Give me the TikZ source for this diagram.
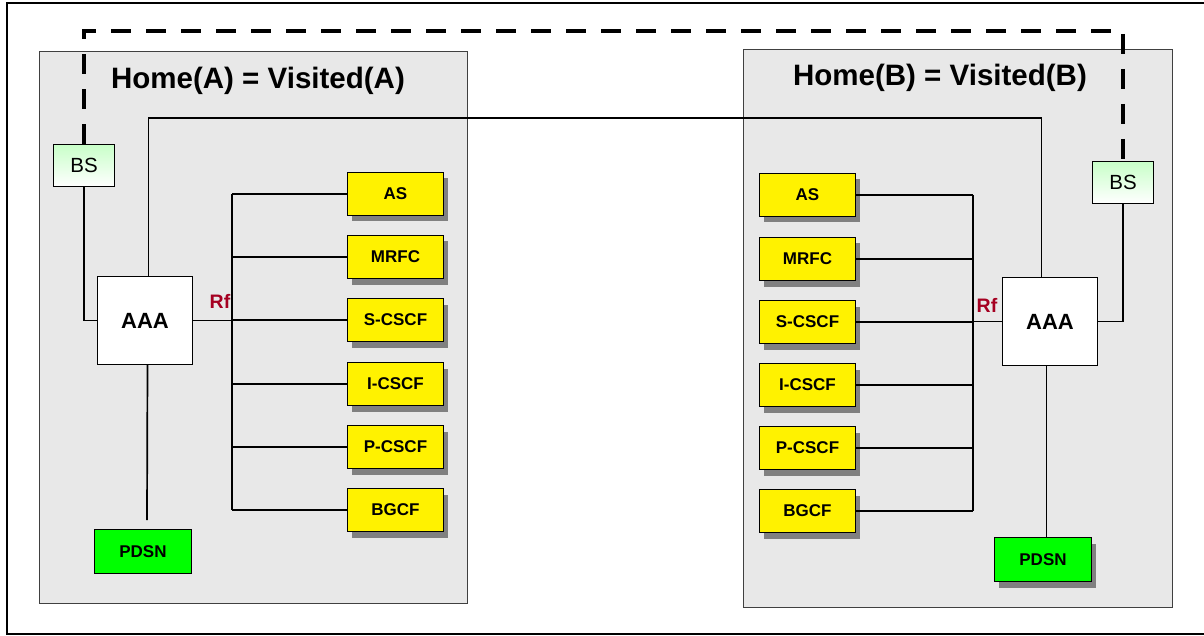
\documentclass[tikz,border=0pt]{standalone}
\usepackage{fontspec}
\setmainfont{Liberation Sans}
\usetikzlibrary{shadows}
\definecolor{panelgray}{HTML}{E8E8E8}
\definecolor{paneledge}{HTML}{404040}
\definecolor{shadowgray}{HTML}{808080}
\definecolor{bsgreen}{HTML}{C8FFC8}
\definecolor{rfred}{HTML}{A50021}
\begin{document}
\begin{tikzpicture}[x=1pt,y=-1pt,
  panel/.style={draw=paneledge, line width=1.3pt, fill=panelgray, anchor=north west, inner sep=0pt},
  ybox/.style={draw=black, line width=1pt, fill=yellow, anchor=north west, minimum width=96pt, minimum height=43pt, inner sep=0pt, font=\fontsize{17}{20}\selectfont\bfseries,
    drop shadow={shadow xshift=4pt, shadow yshift=-6pt, fill=shadowgray, opacity=1}},
  gbox/.style={draw=black, line width=1pt, fill=green, anchor=north west, minimum width=97pt, minimum height=44pt, inner sep=0pt, font=\fontsize{17}{20}\selectfont\bfseries},
  gshadow/.style={drop shadow={shadow xshift=4pt, shadow yshift=-6pt, fill=shadowgray, opacity=1}},
  aaabox/.style={draw=black, line width=1pt, fill=white, anchor=north west, minimum width=95pt, minimum height=88pt, inner sep=0pt, font=\fontsize{22}{26}\selectfont\bfseries},
  bsbox/.style={draw=black, line width=1pt, top color=bsgreen, bottom color=white, anchor=north west, minimum width=61pt, minimum height=42pt, inner sep=0pt, font=\fontsize{20.5}{24}\selectfont},
  conn/.style={draw=black, line width=1.2pt},
  bus/.style={draw=black, line width=1.7pt},
  title/.style={font=\fontsize{29.5}{34}\selectfont\bfseries, anchor=base, inner sep=0pt},
  rflabel/.style={font=\fontsize{19.5}{22}\selectfont\bfseries, text=rfred, anchor=base, inner sep=0pt},
  dashline/.style={draw=black, line width=4pt, dash pattern=on 20pt off 15pt}
]
\useasboundingbox (0,0) rectangle (1204,636);
% outer frame
\draw[line width=2pt] (7,3) rectangle (1215,634);

% panels
\node[panel, minimum width=428pt, minimum height=552pt] (panA) at (39,51) {};
\node[panel, minimum width=429pt, minimum height=558pt] (panB) at (743,49) {};

% titles
\node[title] (titA) at (258,89) {Home(A) = Visited(A)};
\node[title] (titB) at (940,86) {Home(B) = Visited(B)};

% left side nodes
\node[bsbox] (bsL) at (53,144) {BS};
\node[aaabox] (aaaL) at (97,276) {AAA};
\node[gbox] (pdsnL) at (94,529) {PDSN};
\node[ybox] (asL) at (347,172) {AS};
\node[ybox] (mrfcL) at (347,235) {MRFC};
\node[ybox] (scscfL) at (347,298) {S-CSCF};
\node[ybox] (icscfL) at (347,362) {I-CSCF};
\node[ybox] (pcscfL) at (347,425) {P-CSCF};
\node[ybox] (bgcfL) at (347,488) {BGCF};

% right side nodes
\node[bsbox] (bsR) at (1092,161) {BS};
\node[aaabox] (aaaR) at (1002,277) {AAA};
\node[gbox, gshadow] (pdsnR) at (994,537) {PDSN};
\node[ybox] (asR) at (759,173) {AS};
\node[ybox] (mrfcR) at (759,237) {MRFC};
\node[ybox] (scscfR) at (759,300) {S-CSCF};
\node[ybox] (icscfR) at (759,363) {I-CSCF};
\node[ybox] (pcscfR) at (759,426) {P-CSCF};
\node[ybox] (bgcfR) at (759,489) {BGCF};

% Rf labels
\node[rflabel] (rfL) at (220,308) {Rf};
\node[rflabel] (rfR) at (987,312) {Rf};

% coordinates
\coordinate (bxL) at (232,0);
\coordinate (bxR) at (973,0);
\coordinate (topline) at (0,118);
\coordinate (dashtop) at (0,31);
\coordinate (pdsnLend) at (147,520);

% left bus
\foreach \n in {asL,mrfcL,scscfL,icscfL,pcscfL,bgcfL}
  \draw[conn] (\n.west) -- (\n.west -| bxL);
\draw[bus] (asL.west -| bxL) -- (bgcfL.west -| bxL);
\draw[bus] (aaaL.east) -- (aaaL.east -| bxL);

% right bus
\foreach \n in {asR,mrfcR,scscfR,icscfR,pcscfR,bgcfR}
  \draw[conn] (\n.east) -- (\n.east -| bxR);
\draw[bus] (asR.east -| bxR) -- (bgcfR.east -| bxR);
\draw[bus] (aaaR.west) -- (aaaR.west -| bxR);

% BS to AAA
\draw[conn] (bsL.south) |- (aaaL.west);
\draw[conn] (bsR.south) |- (aaaR.east);

% AAA to PDSN
\draw[bus] ([xshift=2.5pt]aaaL.south) -- (pdsnLend);
\draw[bus] ([xshift=-3.5pt]aaaR.south) -- ([xshift=-3.5pt]aaaR.south |- pdsnR.north);

% AAA to AAA over the top
\draw[conn] ([xshift=3.5pt]aaaL.north) |- ([xshift=-8.5pt]aaaR.north |- topline) -- ([xshift=-8.5pt]aaaR.north);

% thick dashed line between the BSs
\draw[dashline] (bsL.north) |- (bsR.north |- dashtop) -- (bsR.north);
\end{tikzpicture}
\end{document}
